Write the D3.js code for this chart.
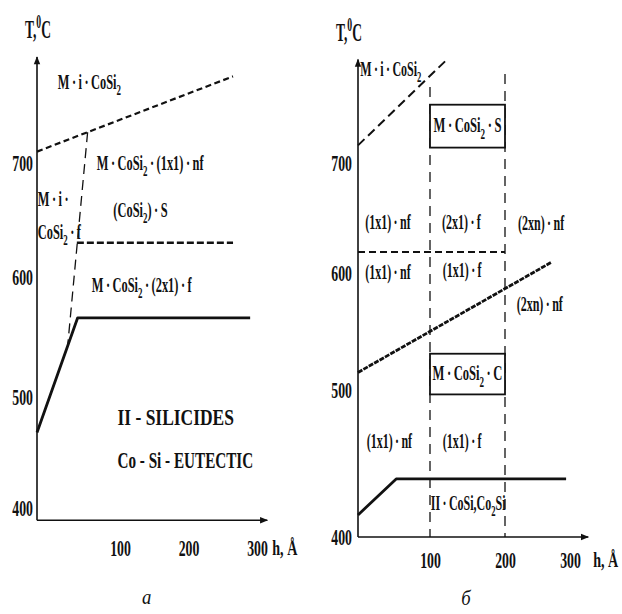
<!DOCTYPE html>
<html>
<head>
<meta charset="utf-8">
<script src="https://cdn.jsdelivr.net/npm/d3@7"></script>
<style>
  html, body { margin: 0; padding: 0; background: #fff; }
  svg { display: block; }
</style>
</head>
<body>
<svg id="chart" width="622" height="614"></svg>
<script>
// ---------- Panel а : Co film on Si, phase boundaries (h in Å, T in °C) ----------
const aTicksH = [100, 200, 300];
const aTicksT = [400, 500, 600, 700];
const aAxisFloorT = 389;
const aAxisEnd = [315, 793];              // [h of x-arrow tip, T of y-arrow tip]
const aUpperDashed = [[0, 710], [265, 776]];
const aSteepDashed = [[61, 727], [37, 543]];
const aMidDashed = [[48, 630], [265, 630]];
const aSolid = [[0, 468], [49, 566], [290, 566]];
const aLabelText = [
  "M · i · CoSi_{2}",
  "M · CoSi_{2} · (1x1) · nf",
  "(CoSi_{2}) · S",
  "M · i ·",
  "CoSi_{2} · f",
  "M · CoSi_{2} · (2x1) · f",
  "II - SILICIDES",
  "Co - Si - EUTECTIC"
];
const aLabelH = [25, 72, 92, 1, 1, 66, 97, 97];
const aLabelT = [771, 700, 659, 668, 639, 593, 482, 443];

// ---------- Panel б ----------
const bTicksH = [100, 200, 300];
const bTicksT = [400, 500, 600, 700];
const bAxisFloorT = 400;
const bAxisEnd = [328, 794];
const bUpperDashed = [[0, 716], [124, 795]];
const bVertH = [100, 200];
const bVertTopT = [769, 781];
const bMidDashed = [[0, 619], [200, 619]];
const bDiagonal = [[0, 515], [272, 610]];
const bSolid = [[0, 415], [53, 439.5], [294, 439.5]];
const bBoxH = [[100, 200], [100, 200]];
const bBoxT = [[714, 753], [497, 531]];
const bBoxText = ["M · CoSi_{2} · S", "M · CoSi_{2} · C"];
const bLabelText = [
  "M · i · CoSi_{2}",
  "(1x1) · nf", "(2x1) · f", "(2xn) · nf",
  "(1x1) · nf", "(1x1) · f", "(2xn) · nf",
  "(1x1) · nf", "(1x1) · f",
  "II · CoSi,Co_{2}Si"
];
const bLabelH = [3, 10, 116, 220, 10, 117, 218, 12, 117, 101];
const bLabelT = [785, 646, 646, 645, 601, 603, 573, 465, 465, 423];

// ---------- drawing ----------
const svg = d3.select("#chart");
const FONT = "'Liberation Serif', 'Times New Roman', serif";
const INK = "#111";

svg.append("defs").append("marker")
  .attr("id", "arrow")
  .attr("viewBox", "0 0 10 10")
  .attr("refX", 9).attr("refY", 5)
  .attr("markerWidth", 9).attr("markerHeight", 8)
  .attr("markerUnits", "userSpaceOnUse")
  .attr("orient", "auto")
  .append("path").attr("d", "M0,1 L10,5 L0,9 Z").attr("fill", INK);

// Text with _{sub} and ^{sup} markup, horizontally condensed like the print face.
// Plain spaces are tightened to thin spaces.
function richText(parent, x, y, markup, o = {}) {
  const fs = o.size || 20, sx = o.sx || 0.6;
  const g = parent.append("g")
    .attr("transform", `translate(${x},${y + 0.34 * fs}) scale(${sx},1)`);
  const t = g.append("text")
    .attr("font-family", FONT)
    .attr("font-size", fs)
    .attr("font-weight", o.weight || "bold")
    .attr("font-style", o.italic ? "italic" : null)
    .attr("text-anchor", o.anchor || "start")
    .attr("fill", INK);
  const src = o.wideSpaces ? markup : markup.replace(/ /g, "\u2009");
  let shift = 0;
  src.split(/(_\{[^}]*\}|\^\{[^}]*\})/).filter(s => s).forEach(s => {
    let target = 0, txt = s, small = false;
    if (s.startsWith("_{")) { target = fs * 0.3; txt = s.slice(2, -1); small = true; }
    else if (s.startsWith("^{")) { target = -fs * 0.42; txt = s.slice(2, -1); small = true; }
    t.append("tspan")
      .attr("dy", target - shift)
      .attr("font-size", small ? fs * 0.72 : fs)
      .text(txt);
    shift = target;
  });
  return g;
}

function drawFrame(g, x, y, ticksH, ticksT, floorT, axisEnd, o) {
  // tick labels via d3 axes (no tick marks, no domain path)
  const TSX = 0.6;
  const xAx = g.append("g").attr("transform", `translate(0,${y(floorT)})`)
    .call(d3.axisBottom(x).tickValues(ticksH).tickSize(0).tickPadding(o.xPad));
  const yAx = g.append("g").attr("transform", `translate(${x(0)},0)`)
    .call(d3.axisLeft(y).tickValues(ticksT).tickSize(0).tickPadding(o.yPad));
  [xAx, yAx].forEach(ax => {
    ax.select(".domain").remove();
    ax.selectAll("text")
      .attr("font-family", FONT).attr("font-size", 23).attr("font-weight", "bold")
      .attr("fill", INK)
      .attr("transform", `scale(${TSX},1)`);
  });
  yAx.selectAll("text").attr("x", -o.yPad / TSX);

  // axis lines with arrowheads
  g.append("line")
    .attr("x1", x(0)).attr("y1", y(floorT))
    .attr("x2", x(axisEnd[0])).attr("y2", y(floorT))
    .attr("stroke", INK).attr("stroke-width", 1.6).attr("marker-end", "url(#arrow)");
  g.append("line")
    .attr("x1", x(0)).attr("y1", y(floorT))
    .attr("x2", x(0)).attr("y2", y(axisEnd[1]))
    .attr("stroke", INK).attr("stroke-width", 1.6).attr("marker-end", "url(#arrow)");

  // axis titles
  richText(g, x(0) - o.tLeft, y(axisEnd[1]) - 27, "T,^{0}C", { size: 25, sx: 0.54, wideSpaces: true });
  richText(g, x(axisEnd[0]) + 5, y(floorT) + o.hDown, "h, Å", { size: 22, sx: 0.64, wideSpaces: true });
}

function path(g, data, x, y, width, dash) {
  g.append("path")
    .datum(data)
    .attr("d", d3.line().x(d => x(d[0])).y(d => y(d[1])))
    .attr("fill", "none")
    .attr("stroke", INK)
    .attr("stroke-width", width)
    .attr("stroke-dasharray", dash || null)
    .attr("stroke-linejoin", "round");
}

// ----- panel а -----
{
  const g = svg.append("g");
  const x = d3.scaleLinear().domain([0, 100, 300]).range([37, 120, 257]);
  const y = d3.scaleLinear().domain([400, 500, 600, 700]).range([508, 397, 277, 163]);

  path(g, aUpperDashed, x, y, 2.2, "6,3.5");
  path(g, aSteepDashed, x, y, 1.3, "10,6");
  path(g, aMidDashed, x, y, 2.6, "7,3");
  path(g, aSolid, x, y, 2.8);

  drawFrame(g, x, y, aTicksH, aTicksT, aAxisFloorT, aAxisEnd,
    { xPad: 19, yPad: 4, tLeft: 12, hDown: 27 });

  // the two large captions use a wider capital face
  const labelStyle = i =>
    i === 6 ? { size: 23, sx: 0.76, wideSpaces: true } :
    i === 7 ? { size: 23, sx: 0.66, wideSpaces: true } :
              { size: 20, sx: 0.62 };
  aLabelText.forEach((s, i) => {
    richText(g, x(aLabelH[i]), y(aLabelT[i]), s, labelStyle(i));
  });

  richText(g, x(139), y(aAxisFloorT) + 76, "а",
    { size: 22, sx: 0.85, weight: "normal", italic: true, anchor: "middle" });
}

// ----- panel б -----
{
  const g = svg.append("g");
  const x = d3.scaleLinear().domain([0, 100, 200, 300]).range([358, 430, 505, 570]);
  const y = d3.scaleLinear().domain([400, 500, 600, 700]).range([537, 390, 273, 163]);

  // vertical boundaries at fixed thickness
  bVertH.forEach((h, i) => {
    g.append("line")
      .attr("x1", x(h)).attr("x2", x(h))
      .attr("y1", y(bVertTopT[i])).attr("y2", y(bAxisFloorT))
      .attr("stroke", INK).attr("stroke-width", 1.3).attr("stroke-dasharray", "10,7");
  });

  path(g, bUpperDashed, x, y, 2, "9,5");
  path(g, bMidDashed, x, y, 2, "7,4");
  path(g, bDiagonal, x, y, 2.8, "5,1.2");
  path(g, bSolid, x, y, 2.8);

  // boxed phase labels
  bBoxText.forEach((s, i) => {
    const [h0, h1] = bBoxH[i], [t0, t1] = bBoxT[i];
    g.append("rect")
      .attr("x", x(h0)).attr("y", y(t1))
      .attr("width", x(h1) - x(h0)).attr("height", y(t0) - y(t1))
      .attr("fill", "#fff").attr("stroke", INK).attr("stroke-width", 1.8);
    richText(g, (x(h0) + x(h1)) / 2, (y(t0) + y(t1)) / 2 - 1, s,
      { size: 21, sx: 0.6, anchor: "middle" });
  });

  drawFrame(g, x, y, bTicksH, bTicksT, bAxisFloorT, bAxisEnd,
    { xPad: 15, yPad: 6, tLeft: 22, hDown: 23 });

  bLabelText.forEach((s, i) => {
    richText(g, x(bLabelH[i]), y(bLabelT[i]), s, { size: 20, sx: 0.6 });
  });

  richText(g, x(148), y(bAxisFloorT) + 61, "б",
    { size: 22, sx: 0.85, weight: "normal", italic: true, anchor: "middle" });
}
</script>
</body>
</html>
